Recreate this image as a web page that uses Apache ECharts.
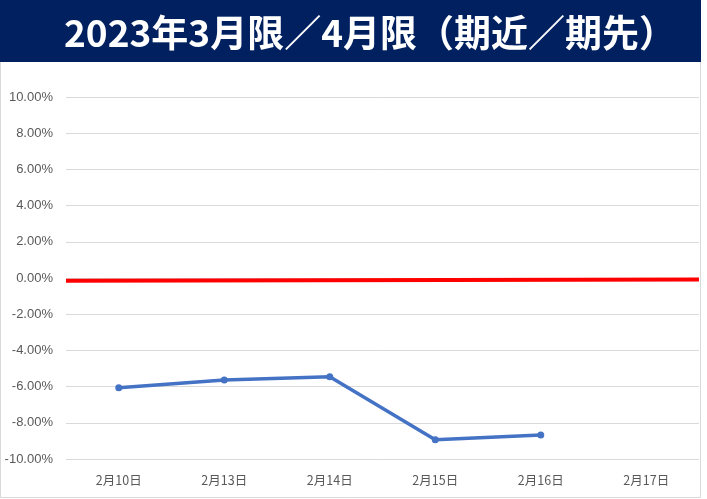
<!DOCTYPE html>
<html><head><meta charset="utf-8">
<script src="https://cdn.jsdelivr.net/npm/echarts@6/dist/echarts.min.js"></script>
<style>html,body{margin:0;padding:0;background:#fff}#c{width:707px;height:499px}</style>
</head><body><div id="c"></div>
<script>
const titleText = '2023年3月限／4月限（期近／期先）';
const categories = ['2月10日','2月13日','2月14日','2月15日','2月16日','2月17日'];
const spreadValues = [-6.07, -5.63, -5.45, -8.93, -8.67, null];
const redLineValues = [-0.15, -0.08];
const yTicks = {min: -10, max: 10, interval: 2};

const chart = echarts.init(document.getElementById('c'));
chart.setOption({
  backgroundColor: '#fff',
  animation: false,
  graphic: [
    {type:'rect', shape:{x:0.5,y:0.5,width:700,height:497}, style:{fill:'none', stroke:'#d9d9d9', lineWidth:1}, z:0},
    {type:'rect', shape:{x:0,y:0,width:701,height:62}, style:{fill:'#002060'}, z:1},
    {type:'text', x:370, y:14, style:{text:titleText, fill:'#fff', font:'bold 37px "Noto Sans CJK JP"', textAlign:'center', textVerticalAlign:'top'}, z:2}
  ],
  grid: {left:66, right:8, top:97, bottom:40, containLabel:false},
  xAxis: [
    {type:'category', data:categories, boundaryGap:true,
     axisLine:{show:false}, axisTick:{show:false},
     axisLabel:{color:'#595959', fontSize:12.5, fontFamily:'"Noto Sans CJK JP"', margin:15}},
    {type:'category', data:['a','b'], boundaryGap:false, show:false}
  ],
  yAxis: {type:'value', min:yTicks.min, max:yTicks.max, interval:yTicks.interval,
    axisLine:{show:false}, axisTick:{show:false},
    splitLine:{lineStyle:{color:'#d9d9d9', width:1}},
    axisLabel:{color:'#595959', fontSize:13, fontFamily:'"Liberation Sans"', margin:13,
      formatter: v => v.toFixed(2) + '%'}},
  series: [
    {type:'line', xAxisIndex:1, data:redLineValues, symbol:'none',
     lineStyle:{color:'#ff0000', width:4}, z:3},
    {type:'line', xAxisIndex:0, data:spreadValues, symbol:'circle', symbolSize:7,
     itemStyle:{color:'#4472c4'}, lineStyle:{color:'#4472c4', width:3.5}, z:4}
  ]
});
</script></body></html>
